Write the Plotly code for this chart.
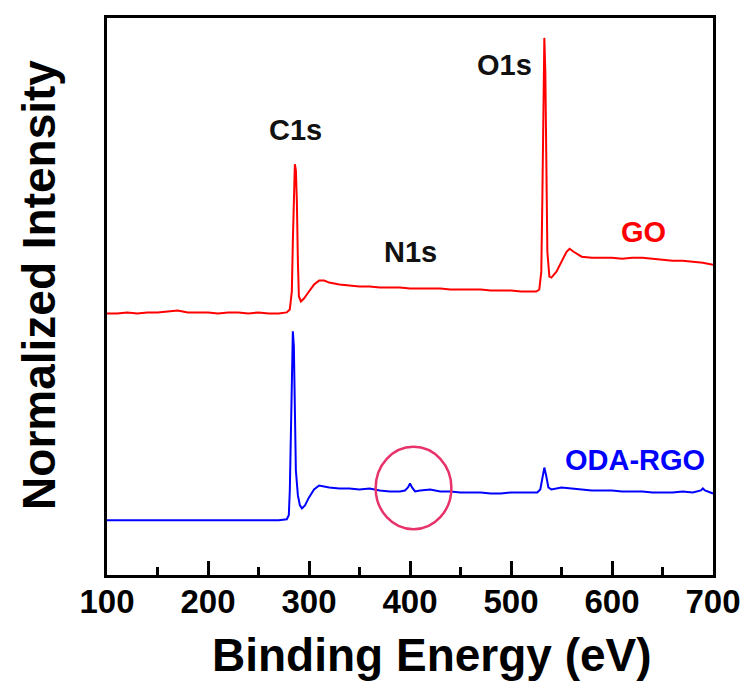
import plotly.graph_objects as go

# ---- data (binding energy in eV, normalized intensity in a.u.) ----
go_energy = [100,110,120,130,140,150,160,170,175,180,
             190,200,210,220,230,240,250,260,270,278,
             281,283,284,285,286,287,288,289,290,292,
             295,300,305,310,315,320,330,340,350,360,
             370,380,390,400,410,420,430,440,450,460,
             470,480,490,500,510,520,525,528,530,531,
             532,533,534,535,536,538,540,545,550,555,
             558,562,570,580,590,600,610,620,630,640,
             650,660,670,680,690,700]
go_intensity = [263,263,264,263,264,264,265,266,265,264,
                264,264,263,264,264,263,264,263,263,264,
                267,285,335,390,413,407,375,315,280,275,
                278,285,292,296,296,294,292,291,290,290,
                289,289,289,288,288,288,288,287,287,287,
                287,286,286,286,285,285,285,287,305,375,
                475,540,505,405,325,300,299,305,315,325,
                328,325,320,319,319,319,318,319,319,318,
                317,316,316,315,314,312]

oda_energy = [100,120,140,160,180,200,220,240,260,270,
              278,280,281,282,283,284,285,286,287,289,
              291,293,296,300,305,310,315,320,330,340,
              350,360,370,380,390,395,398,400,402,405,
              410,420,430,440,450,460,470,480,490,500,
              510,520,526,529,531,533,535,537,540,545,
              550,560,570,580,590,600,610,620,630,640,
              650,660,670,680,688,690,692,700]
oda_intensity = [55,55,55,55,55,55,55,55,55,55,
                 56,60,85,135,195,245,230,155,105,80,
                 70,67,70,78,86,90,89,88,87,87,
                 86,87,85,84,84,85,88,92,88,84,
                 85,86,84,84,83,83,83,82,82,83,
                 83,83,83,86,97,108,99,88,86,87,
                 88,87,86,85,85,85,84,84,84,83,
                 83,83,84,83,85,87,85,82]

x_ticks = [100, 200, 300, 400, 500, 600, 700]
x_range = [100, 700]
y_range = [0, 560]

FONT = "Liberation Sans"

fig = go.Figure()
fig.add_trace(go.Scatter(x=go_energy, y=go_intensity, mode="lines",
                         line=dict(color="#FF0000", width=2), name="GO",
                         showlegend=False))
fig.add_trace(go.Scatter(x=oda_energy, y=oda_intensity, mode="lines",
                         line=dict(color="#0000FF", width=2), name="ODA-RGO",
                         showlegend=False))

# highlight circle around N1s of ODA-RGO
fig.add_shape(type="circle", xref="x", yref="y",
              x0=366, x1=441, y0=46, y1=129,
              line=dict(color="#E8336A", width=2.5))

def label(text, x, y, color, size):
    fig.add_annotation(x=x, y=y, xref="x", yref="y", text=text, showarrow=False,
                       xanchor="center", yanchor="middle",
                       font=dict(family=FONT, size=size, color=color, weight="bold"))

label("C1s", 287, 447, "#111111", 29)
label("O1s", 494, 513, "#111111", 29)
label("N1s", 400, 325, "#111111", 29)
label("GO", 631, 345, "#FF0000", 29)
label("ODA-RGO", 623, 116, "#0000FF", 29)

# axis titles
fig.add_annotation(x=0.536, y=-0.143, xref="paper", yref="paper",
                   xanchor="center", yanchor="middle",
                   text="Binding Energy (eV)", showarrow=False,
                   font=dict(family=FONT, size=46, color="black", weight="bold"))
fig.add_annotation(x=-0.112, y=0.521, xref="paper", yref="paper",
                   xanchor="center", yanchor="middle",
                   text="Normalized Intensity", showarrow=False, textangle=-90,
                   font=dict(family=FONT, size=46, color="black", weight="bold"))

fig.update_xaxes(range=x_range, tickvals=x_ticks, ticks="inside", ticklen=14,
                 tickwidth=2.5, tickcolor="black", showline=True, linewidth=3,
                 linecolor="black", mirror=True, showgrid=False, zeroline=False,
                 ticklabelstandoff=-5,
                 tickfont=dict(family=FONT, size=33, color="black", weight="bold"),
                 minor=dict(dtick=50, tick0=100, ticks="inside", ticklen=8,
                            tickwidth=2.5, tickcolor="black", showgrid=False))
fig.update_yaxes(range=y_range, showticklabels=False, ticks="", showline=True,
                 linewidth=3, linecolor="black", mirror=True, showgrid=False,
                 zeroline=False)

# page body adds an 8px offset; size the figure so the plot area lands at
# x 107-713, y 15-575 in the window
fig.update_layout(width=742, height=689,
                  margin=dict(l=99, r=37, t=7, b=122),
                  paper_bgcolor="white", plot_bgcolor="white")

fig.write_html("out.html")
